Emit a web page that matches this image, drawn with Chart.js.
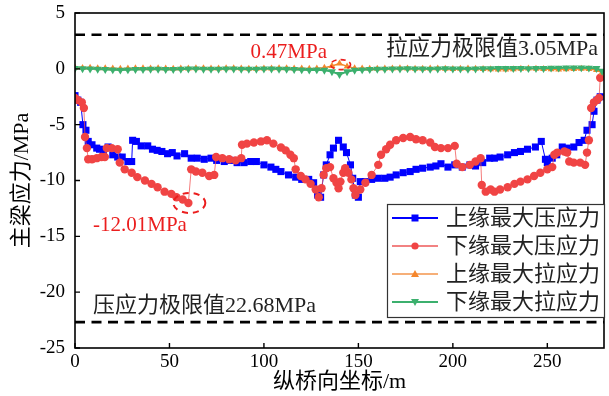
<!DOCTYPE html>
<html><head><meta charset="utf-8">
<script src="https://cdn.jsdelivr.net/npm/chart.js@4.4.0/dist/chart.umd.min.js"></script>
<style>html,body{margin:0;padding:0;background:#fff;}#wrap{width:609px;height:396px;position:relative}</style>
</head><body><div id="wrap"><canvas id="c" width="609" height="396"></canvas></div>
<script>
// ---------- data ----------
const xTickValues = [0, 50, 100, 150, 200, 250];
const yTickValues = [-25, -20, -15, -10, -5, 0, 5];
const seriesNames = ['上缘最大压应力', '下缘最大压应力', '上缘最大拉应力', '下缘最大拉应力'];
const xAxisTitle = '纵桥向坐标/m';
const yAxisTitle = '主梁应力/MPa';

const topCompX = [0,1.5,3,4.2,5.8,7,9,11.5,13,15,17.5,20,22.6,25,28,30,30.5,32.5,35,38.5,41,43.5,46,49,51.5,54,58,61.5,64.7,68.4,72,75,79,82.6,85.8,89.5,93,96,100,103.7,106.3,109,113,116.8,120,123.7,126.3,128.4,130,131.6,133,135,136.8,139.5,142,143.7,145.8,147,148.4,150,151,153.7,157,160.5,164,166.8,170,173.7,177.4,180.5,184,188,191,193.7,197.4,201,205,209,212,215.8,219.5,222,225,229,232.6,235.8,239.5,243.7,246.8,249,250,252.6,255,257.9,260.5,264,266.8,269.5,271,273.7,274.7,276.3,278];
const topCompY = [-2.4,-2.8,-3.0,-5.0,-5.5,-6.5,-6.8,-7.1,-7.2,-7.4,-7.0,-7.7,-7.9,-7.9,-8.3,-8.3,-6.4,-6.5,-6.9,-6.9,-7.2,-7.3,-7.4,-7.6,-7.5,-7.8,-7.6,-8.0,-8.0,-8.1,-8.0,-8.2,-8.3,-8.2,-8.4,-8.4,-8.3,-8.3,-8.6,-8.8,-9.0,-9.2,-9.5,-9.7,-9.9,-9.9,-10.2,-11.3,-11.5,-9.5,-8.6,-7.7,-7.1,-6.4,-7.0,-7.5,-8.6,-9.8,-11.3,-11.5,-10.1,-10.1,-9.9,-9.8,-9.8,-9.7,-9.5,-9.3,-9.2,-9.0,-8.9,-8.8,-8.7,-8.5,-8.8,-8.6,-8.8,-8.6,-8.7,-8.4,-8.0,-8.0,-7.9,-7.7,-7.5,-7.4,-7.2,-7.0,-6.5,-8.1,-8.4,-8.0,-7.7,-7.0,-7.1,-7.0,-6.6,-6.4,-5.5,-5.0,-3.8,-2.8,-2.5];

const botCompX = [0,1.6,3.6,4.7,5.3,6.3,7,9,11.5,14,15.8,16.8,19.5,22.6,23.7,26.3,30,33,37,40.5,43.7,47.4,51,53.7,57,60,61.5,64,67.4,71,73.7,74.7,78,81.6,85,88,88.4,91,94.7,98.4,101.6,105,109,111.5,114,115.8,116.8,119.5,122,124.7,127.4,129,130.5,131.6,133,135,136.8,138.4,139.5,140.5,142,143,144.7,146.3,147.4,148.4,151,153.7,157,160.5,162,164.7,166.8,170,173.7,177.4,180.5,184,188,190.5,193.7,197.4,201,202,205,209,212,214.7,215.3,217.4,220,222,225,229,232.6,235.8,239.5,243,246.3,250,252.6,253.7,255.3,259,260.5,261.6,264,267.4,270,271,272,273.2,274.7,276.3,277.4,278];
const botCompY = [-2.6,-2.8,-3.0,-3.5,-6.1,-7.1,-8.1,-8.1,-8.0,-7.9,-7.9,-7.1,-7.1,-7.2,-8.4,-9.0,-9.3,-9.7,-10.0,-10.3,-10.6,-11.0,-11.2,-11.5,-11.7,-12.01,-9.0,-9.2,-9.3,-9.6,-9.5,-7.9,-8.0,-8.1,-8.2,-8.0,-6.8,-6.7,-6.6,-6.5,-6.4,-6.7,-7.05,-7.3,-7.7,-8.0,-9.0,-9.6,-9.9,-10.3,-10.8,-11.5,-10.7,-9.5,-8.9,-8.8,-9.8,-10.2,-10.7,-10.1,-9.3,-8.9,-9.3,-9.9,-10.7,-11.3,-10.8,-10.2,-9.5,-8.6,-7.7,-7.2,-6.8,-6.4,-6.2,-6.1,-6.3,-6.4,-6.6,-7.0,-7.1,-7.1,-6.9,-8.5,-8.8,-8.6,-8.3,-8.0,-10.4,-11.0,-10.8,-11.0,-10.8,-10.6,-10.3,-10.1,-9.9,-9.6,-9.3,-9.0,-8.8,-7.7,-7.5,-7.4,-7.5,-8.3,-8.4,-8.4,-8.6,-7.5,-6.4,-3.5,-3.0,-2.8,-2.6,-0.8];

const tensionX = [0,4,8,12,16,20,24,28,32,36,40,44,48,52,56,60,64,68,72,76,80,84,88,92,96,100,104,108,112,116,120,124,128,132,136,140,144,148,152,156,160,164,168,172,176,180,184,188,192,196,200,204,208,212,216,220,224,228,232,236,240,244,248,252,256,260,264,268,272,276,279];
const topTensY = [0.1,0.08,0.1,0.05,0.05,0.02,0.0,0.02,0.05,0.05,0.03,0.05,0.02,0.0,0.02,0.03,0.05,0.05,0.02,0.03,0.05,0.05,0.02,0.0,0.0,0.02,0.03,0.05,0.05,0.03,0.02,0.0,0.02,0.1,0.25,0.47,0.22,0.05,0.02,0.0,0.0,0.02,0.03,0.05,0.02,0.0,0.0,0.02,0.03,0.0,-0.02,0.0,0.02,0.0,-0.02,-0.03,-0.05,-0.05,-0.03,0.0,0.02,0.0,-0.02,-0.03,-0.05,-0.03,-0.02,0.0,-0.02,-0.1,-0.35];
const botTensY = [0.05,0.02,0.0,-0.02,-0.05,-0.08,-0.1,-0.08,-0.05,-0.05,-0.02,-0.03,-0.05,-0.05,-0.03,0.0,0.0,-0.02,-0.03,-0.02,0.0,0.0,-0.02,-0.03,-0.02,0.0,0.0,-0.02,-0.03,-0.05,-0.08,-0.1,-0.08,-0.12,-0.25,-0.5,-0.25,-0.12,-0.08,-0.05,-0.03,-0.02,0.0,0.0,0.02,0.0,0.0,-0.02,0.0,0.02,0.0,0.0,-0.02,0.0,0.02,0.03,0.05,0.05,0.05,0.05,0.03,0.05,0.05,0.08,0.08,0.1,0.1,0.1,0.08,0.05,-0.2];

const tensionLimit = 3.05;
const compressionLimit = -22.68;
const peakTension = { x: 139.5, y: 0.47, label: '0.47MPa' };
const minCompression = { x: 60, y: -12.01, label: '-12.01MPa' };
const tensionLimitLabel = '拉应力极限值3.05MPa';
const compressionLimitLabel = '压应力极限值22.68MPa';

// ---------- styles ----------
const SERIF = "'Liberation Serif','Noto Sans CJK SC',serif";
const BLUE = '#0000FF';
const RED = 'rgb(240,68,68)';
const RED_LINE = 'rgba(240,80,80,0.75)';
const ORANGE = 'rgb(245,135,45)';
const GREEN = 'rgb(60,176,110)';

function pts(xs, ys) { return xs.map((x, i) => ({ x: x, y: ys[i] })); }

const datasets = [
  { label: seriesNames[0], data: pts(topCompX, topCompY), borderColor: BLUE, backgroundColor: BLUE,
    borderWidth: 1, pointStyle: 'rect', pointRadius: 5, pointBorderWidth: 0, order: 4 },
  { label: seriesNames[1], data: pts(botCompX, botCompY), borderColor: RED_LINE, backgroundColor: RED,
    borderWidth: 1, pointStyle: 'circle', pointRadius: 4.2, pointBorderWidth: 0, order: 3 },
  { label: seriesNames[2], data: pts(tensionX, topTensY), borderColor: ORANGE, backgroundColor: ORANGE,
    borderWidth: 1.5, pointStyle: 'triangle', pointRadius: 4, pointBorderWidth: 0, order: 2 },
  { label: seriesNames[3], data: pts(tensionX, botTensY), borderColor: GREEN, backgroundColor: GREEN,
    borderWidth: 2, pointStyle: 'triangle', pointRotation: 180, pointRadius: 4.6, pointBorderWidth: 0, order: 1 },
  { label: 'lim1', data: [{ x: 0, y: tensionLimit }, { x: 280, y: tensionLimit }], borderColor: '#000',
    borderWidth: 2.6, borderDash: [10, 6.5], pointRadius: 0, order: 10 },
  { label: 'lim2', data: [{ x: 0, y: compressionLimit }, { x: 280, y: compressionLimit }], borderColor: '#000',
    borderWidth: 2.6, borderDash: [10, 6.5], pointRadius: 0, order: 10 }
];

function drawMarker(ctx, style, x, y, color) {
  ctx.save();
  ctx.fillStyle = color;
  ctx.beginPath();
  if (style === 'rect') { ctx.rect(x - 3.5, y - 3.5, 7, 7); }
  else if (style === 'circle') { ctx.arc(x, y, 3.6, 0, Math.PI * 2); }
  else if (style === 'tri') { ctx.moveTo(x, y - 4); ctx.lineTo(x + 4, y + 3); ctx.lineTo(x - 4, y + 3); ctx.closePath(); }
  else if (style === 'dtri') { ctx.moveTo(x, y + 4); ctx.lineTo(x + 4, y - 3); ctx.lineTo(x - 4, y - 3); ctx.closePath(); }
  ctx.fill();
  ctx.restore();
}

const decor = {
  id: 'decor',
  afterDraw(chart) {
    const ctx = chart.ctx;
    const a = chart.chartArea;
    const xs = chart.scales.x, ys = chart.scales.y;
    ctx.save();
    // frame
    ctx.strokeStyle = '#000';
    ctx.lineWidth = 1.6;
    ctx.strokeRect(a.left, a.top, a.right - a.left, a.bottom - a.top);
    // inward ticks
    ctx.lineWidth = 1.4;
    ctx.beginPath();
    yTickValues.forEach(v => { const py = ys.getPixelForValue(v); ctx.moveTo(a.left, py); ctx.lineTo(a.left + 5, py); });
    xTickValues.forEach(v => { const px = xs.getPixelForValue(v); ctx.moveTo(px, a.bottom); ctx.lineTo(px, a.bottom - 5); });
    ctx.stroke();

    // axis titles
    ctx.fillStyle = '#000';
    ctx.font = '22px ' + SERIF;
    ctx.textAlign = 'center';
    ctx.textBaseline = 'middle';
    ctx.fillText(xAxisTitle, (a.left + a.right) / 2, 382);
    ctx.save();
    ctx.translate(22, (a.top + a.bottom) / 2);
    ctx.rotate(-Math.PI / 2);
    ctx.fillText(yAxisTitle, 0, 0);
    ctx.restore();

    // limit labels
    ctx.font = '22px ' + SERIF;
    ctx.textAlign = 'right';
    ctx.fillStyle = '#222';
    ctx.fillText(tensionLimitLabel, a.right - 6, ys.getPixelForValue(tensionLimit) + 14);
    ctx.textAlign = 'left';
    ctx.fillText(compressionLimitLabel, a.left + 18, ys.getPixelForValue(compressionLimit) - 16);

    // red annotations
    ctx.fillStyle = 'rgb(235,30,30)';
    ctx.strokeStyle = 'rgb(235,30,30)';
    ctx.font = '21px ' + SERIF;
    const mx = xs.getPixelForValue(minCompression.x), my = ys.getPixelForValue(minCompression.y);
    ctx.textAlign = 'left';
    ctx.fillText(minCompression.label, a.left + 18, my + 23);
    ctx.lineWidth = 2;
    ctx.setLineDash([6, 5]);
    ctx.beginPath();
    ctx.ellipse(mx + 1, my, 16, 10, 0, 0, Math.PI * 2);
    ctx.stroke();
    const px = xs.getPixelForValue(peakTension.x), py = ys.getPixelForValue(peakTension.y);
    ctx.fillText(peakTension.label, px - 88, py - 11);
    ctx.setLineDash([5, 4]);
    ctx.lineWidth = 1.6;
    ctx.beginPath();
    ctx.ellipse(px + 2, py + 1, 10, 5, 0, 0, Math.PI * 2);
    ctx.stroke();
    ctx.setLineDash([]);

    // legend
    const L = { left: 387, top: 204, right: 605, bottom: 318 };
    ctx.fillStyle = '#fff';
    ctx.fillRect(L.left, L.top, L.right - L.left, L.bottom - L.top);
    ctx.strokeStyle = '#333';
    ctx.lineWidth = 1.2;
    ctx.strokeRect(L.left + 0.5, L.top + 0.5, L.right - L.left - 1, L.bottom - L.top - 1);
    const rows = [218, 246, 274, 302];
    const lineCols = [BLUE, 'rgb(242,130,130)', 'rgb(246,175,120)', GREEN];
    const mk = ['rect', 'circle', 'tri', 'dtri'];
    const mkCols = [BLUE, RED, ORANGE, GREEN];
    ctx.font = '22px ' + SERIF;
    ctx.textAlign = 'left';
    ctx.textBaseline = 'middle';
    rows.forEach((ry, i) => {
      ctx.strokeStyle = lineCols[i];
      ctx.lineWidth = 2;
      ctx.beginPath(); ctx.moveTo(392, ry); ctx.lineTo(438, ry); ctx.stroke();
      drawMarker(ctx, mk[i], 415, ry, mkCols[i]);
      ctx.fillStyle = '#222';
      ctx.fillText(seriesNames[i], 446, ry + 1);
    });
    ctx.restore();
  }
};

new Chart(document.getElementById('c'), {
  type: 'line',
  data: { datasets: datasets },
  plugins: [decor],
  options: {
    responsive: false,
    animation: false,
    devicePixelRatio: 1,
    layout: { padding: { top: 13, right: 4, left: 0, bottom: 0 } },
    plugins: { legend: { display: false }, tooltip: { enabled: false } },
    scales: {
      x: {
        type: 'linear', min: 0, max: 280,
        afterFit(s) { s.height = 48; s.paddingLeft = 0; s.paddingRight = 0; },
        grid: { display: false, drawTicks: false },
        border: { display: false },
        afterBuildTicks(s) { s.ticks = xTickValues.map(v => ({ value: v })); },
        ticks: { padding: 3, color: '#000', font: { family: SERIF, size: 19 }, maxRotation: 0, autoSkip: false }
      },
      y: {
        type: 'linear', min: -25, max: 5,
        afterFit(s) { s.width = 75; s.paddingTop = 0; s.paddingBottom = 0; },
        grid: { display: false, drawTicks: false },
        border: { display: false },
        afterBuildTicks(s) { s.ticks = yTickValues.map(v => ({ value: v })); },
        ticks: { padding: 10, color: '#000', font: { family: SERIF, size: 19 }, autoSkip: false }
      }
    }
  }
});
</script>
</body></html>
